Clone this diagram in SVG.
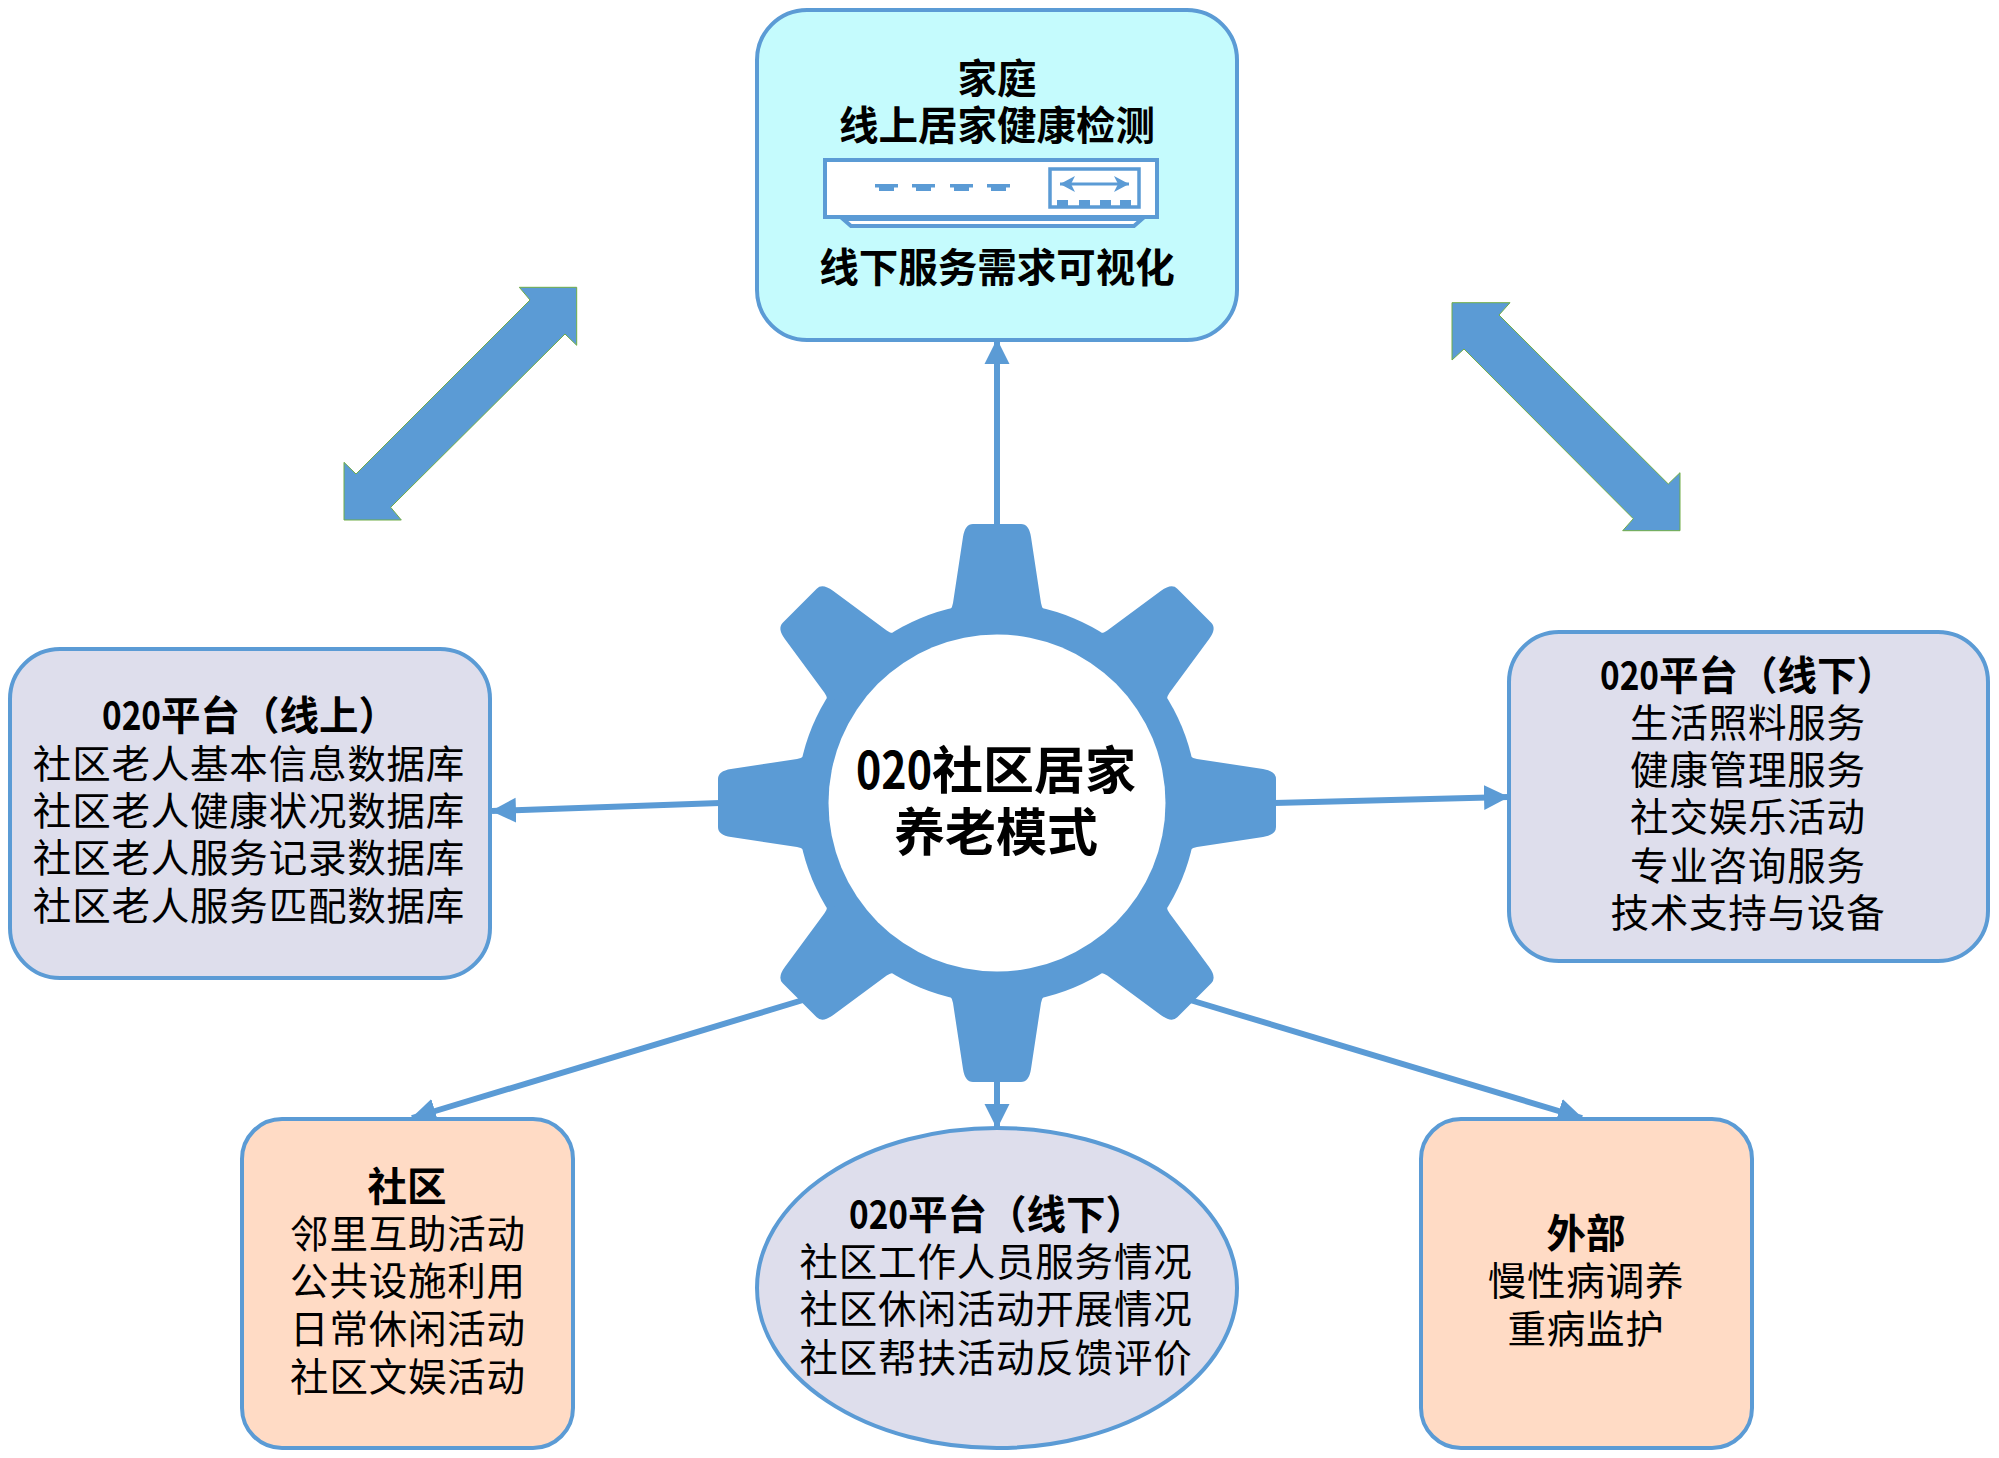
<svg xmlns="http://www.w3.org/2000/svg" width="1999" height="1458" viewBox="0 0 1999 1458">
<style>
text{font-family:"Noto Sans CJK SC","Noto Sans",sans-serif;font-size:38.500px;letter-spacing:.8px;font-weight:400;fill:#000;text-anchor:middle}
.t{font-weight:700;font-size:39.500px;letter-spacing:0}
.c{font-size:51px;font-weight:700;letter-spacing:0}
.box{stroke:#5B9BD5;stroke-width:4}
.blue{fill:#C5FBFD}.grey{fill:#DEDEEC}.orange{fill:#FFDBC5}
.conn{fill:none;stroke:#5B9BD5;stroke-width:6;marker-end:url(#h)}
.dbl{fill:#5B9BD5;stroke:#70AD47;stroke-width:1}
.gear{fill:#5B9BD5}
.ic{fill:#fff;stroke:#5B9BD5;stroke-width:4}
.icf{fill:#5B9BD5}
</style>
<defs>
<marker id="h" markerUnits="userSpaceOnUse" markerWidth="26" markerHeight="26" refX="24" refY="13" orient="auto"><path d="M0 0.5L25 13L0 25.500Z" fill="#5B9BD5"/></marker>
<marker id="s" markerUnits="userSpaceOnUse" markerWidth="16" markerHeight="16" refX="15" refY="8" orient="auto-start-reverse"><path d="M0 0L15 8L0 16L4 8Z" fill="#5B9BD5"/></marker>
<path id="tooth" d="M-52-188L-47-193Q-44.500-196-44-200L-34-266Q-32-279-24-279H24Q32-279 34-266L44-200Q44.500-196 47-193L52-188Z"/>
<g id="dash"><rect x="0" y="184" width="23" height="3.500"/><rect x="4" y="187" width="15" height="4"/></g>
</defs>
<g id="connectors">
<path class="conn" d="M997 526V340"/>
<path class="conn" d="M720 803L492 811"/>
<path class="conn" d="M1274 803L1508 797"/>
<path class="conn" d="M803 1000L412 1118"/>
<path class="conn" d="M997 1080V1128"/>
<path class="conn" d="M1190 1000L1582 1118"/>
<polygon class="dbl" points="576.7,287.3 519.3,287.3 530,300 356,474 344,462.3 344,520 401.3,520 390.7,507.3 565,334 576.7,345.3"/>
<polygon class="dbl" points="1452,302.7 1510,302.7 1499,315 1668.3,484 1680,472.7 1680,530.7 1622.7,530.7 1633.3,518.7 1464,349 1452,360"/>
</g>
<g id="node-home">
<rect class="box blue" x="757" y="10" width="480" height="330" rx="50"/>
<text class="t" x="997" y="93">家庭</text>
<text class="t" x="997" y="140">线上居家健康检测</text>
<g id="device">
<path class="ic" d="M843 219L851 226H1134L1142 219Z"/>
<rect class="ic" x="825" y="160" width="332" height="57"/>
<rect x="1050" y="169" width="89" height="38" fill="#fff" stroke="#5B9BD5" stroke-width="3.500"/>
<path d="M1060 184H1129" fill="none" stroke="#5B9BD5" stroke-width="3" marker-start="url(#s)" marker-end="url(#s)"/>
<g class="icf">
<use href="#dash" x="875"/><use href="#dash" x="912"/><use href="#dash" x="950"/><use href="#dash" x="987"/>
<rect x="1057" y="200" width="11" height="7"/><rect x="1079" y="200" width="11" height="7"/><rect x="1100" y="200" width="11" height="7"/><rect x="1120" y="200" width="11" height="7"/>
</g>
</g>
<text class="t" x="997" y="282">线下服务需求可视化</text>
</g>
<g id="node-gear">
<g class="gear">
<circle cx="997" cy="803" r="200"/>
<use href="#tooth" transform="translate(997 803)"/>
<use href="#tooth" transform="translate(997 803) rotate(45)"/>
<use href="#tooth" transform="translate(997 803) rotate(90)"/>
<use href="#tooth" transform="translate(997 803) rotate(135)"/>
<use href="#tooth" transform="translate(997 803) rotate(180)"/>
<use href="#tooth" transform="translate(997 803) rotate(225)"/>
<use href="#tooth" transform="translate(997 803) rotate(270)"/>
<use href="#tooth" transform="translate(997 803) rotate(315)"/>
</g>
<circle cx="997" cy="803" r="168.500" fill="#fff"/>
<text class="c" x="996" y="789"><tspan textLength="76" lengthAdjust="spacingAndGlyphs">020</tspan>社区居家</text>
<text class="c" x="996" y="851">养老模式</text>
</g>
<g id="node-online">
<rect class="box grey" x="10" y="649" width="480" height="329" rx="50"/>
<text class="t" x="250" y="730"><tspan textLength="59" lengthAdjust="spacingAndGlyphs">020</tspan>平台（线上）</text>
<text x="249" y="778">社区老人基本信息数据库</text>
<text x="249" y="825">社区老人健康状况数据库</text>
<text x="249" y="872">社区老人服务记录数据库</text>
<text x="249" y="920">社区老人服务匹配数据库</text>
</g>
<g id="node-offline">
<rect class="box grey" x="1509" y="632" width="479" height="329" rx="50"/>
<text class="t" x="1748" y="690"><tspan textLength="59" lengthAdjust="spacingAndGlyphs">020</tspan>平台（线下）</text>
<text x="1748" y="737">生活照料服务</text>
<text x="1748" y="784">健康管理服务</text>
<text x="1748" y="831">社交娱乐活动</text>
<text x="1748" y="880">专业咨询服务</text>
<text x="1748" y="927">技术支持与设备</text>
</g>
<g id="node-community">
<rect class="box orange" x="242" y="1119" width="331" height="329" rx="40"/>
<text class="t" x="407" y="1201">社区</text>
<text x="408" y="1248">邻里互助活动</text>
<text x="408" y="1295">公共设施利用</text>
<text x="408" y="1343">日常休闲活动</text>
<text x="408" y="1391">社区文娱活动</text>
</g>
<g id="node-ellipse">
<ellipse class="box grey" cx="997" cy="1288" rx="240" ry="160"/>
<text class="t" x="997" y="1229"><tspan textLength="59" lengthAdjust="spacingAndGlyphs">020</tspan>平台（线下）</text>
<text x="996" y="1276">社区工作人员服务情况</text>
<text x="996" y="1323">社区休闲活动开展情况</text>
<text x="996" y="1372">社区帮扶活动反馈评价</text>
</g>
<g id="node-external">
<rect class="box orange" x="1421" y="1119" width="331" height="329" rx="40"/>
<text class="t" x="1586" y="1248">外部</text>
<text x="1586" y="1295">慢性病调养</text>
<text x="1586" y="1343">重病监护</text>
</g>
</svg>
